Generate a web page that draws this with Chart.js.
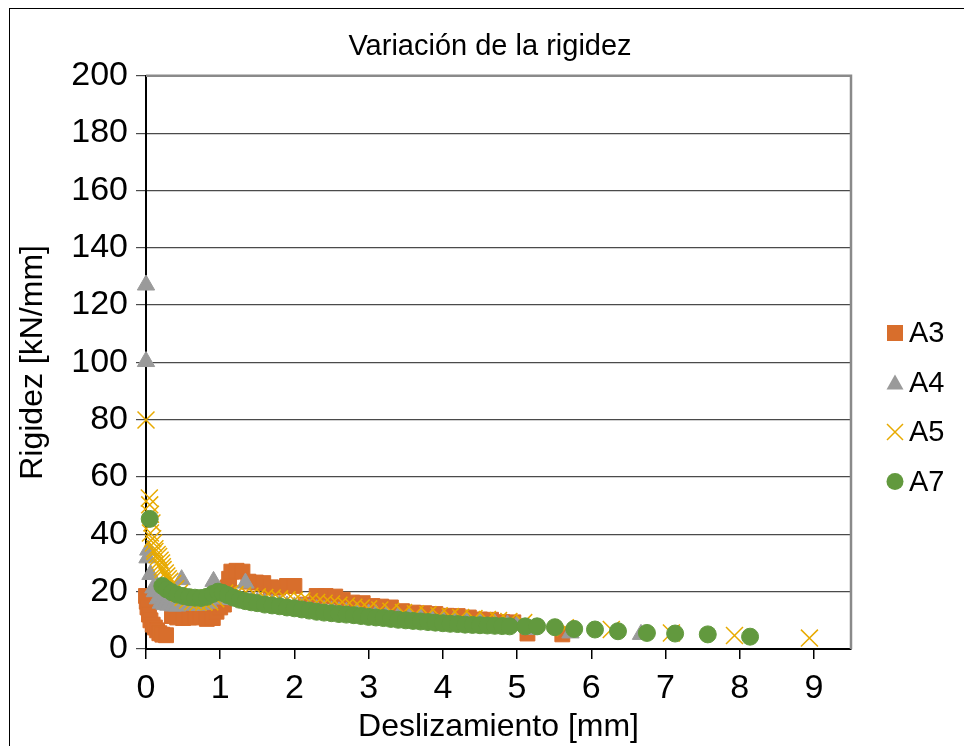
<!DOCTYPE html>
<html>
<head>
<meta charset="utf-8">
<script src="https://cdn.jsdelivr.net/npm/chart.js@4.4.1/dist/chart.umd.min.js"></script>
<style>
html,body{margin:0;padding:0;background:#fff;overflow:hidden}
#wrap{position:absolute;left:0;top:0;width:964px;height:746px}
#frame{position:absolute;left:9px;top:8px;width:1000px;height:800px;border:1px solid #000}
</style>
</head>
<body>
<div id="wrap"><canvas id="chart" width="964" height="746"></canvas></div>
<div id="frame"></div>
<script>

/* DATA */

const a3X=[0,0.01,0.02,0.04,0.06,0.09,0.12,0.15,0.18,0.22,0.27,0.35,0.42,0.5,0.58,0.66,0.74,0.82,0.9,0.95,1.0,1.05,1.08,1.1,1.12,1.15,1.22,1.3,1.38,1.48,1.58,1.68,1.78,1.9,2.0,2.15,2.3,2.42,2.55,2.65,2.78,2.92,3.05,3.17,3.3,3.45,3.6,3.75,3.9,4.05,4.2,4.35,4.5,4.65,4.8,4.95,5.14,5.61];
const a3Y=[18.5,16.5,14.5,12,10,8.5,7.5,6.5,5.5,5,4.8,11.5,11,10.8,11,11,11.3,10.5,10.8,13,14.5,15.5,18,21.5,24.5,27,27.3,27,23.5,23.2,23,21.5,21.4,22,22,15.5,18.5,18.5,18.3,17.2,16.2,16,15,14.8,14.5,13.2,12.7,12.5,12.2,11.6,11.5,11,10.3,10.2,9.4,9.3,5.4,5.1];

const a4X=[0,0,0.03,0.02,0.06,0.1,0.12,0.16,0.2,0.25,0.3,0.36,0.42,0.48,0.55,0.62,0.7,0.78,0.85,0.91,0.98,1.05,1.13,1.2,1.27,1.34,1.42,1.5,1.6,1.7,1.8,1.9,2.0,2.1,2.2,2.3,2.4,2.5,2.6,2.7,2.84,3.0,3.1,3.24,3.4,3.55,3.7,3.85,4.0,4.15,4.32,4.5,4.7,4.87,5.0,5.18,5.72,6.67];
const a4Y=[127,100.3,34.5,31.8,26,21.3,20,17.5,16,15.5,15.3,15,15,24.2,15.5,15.3,15.3,15.5,16,23.6,17.5,17.5,17.3,17.2,17,23,16.5,16.3,16,15.7,15.3,15,14.7,14.4,14,13.8,13.5,13.3,13,12.8,12.7,12.2,12,11.6,11.3,11,10.7,10.3,10,9.7,9.4,9.1,8.7,8.4,8.2,6.8,5.6,5.1];

const a5X=[0,0.045,0.05,0.06,0.08,0.06,0.09,0.1,0.12,0.12,0.15,0.17,0.19,0.21,0.22,0.23,0.26,0.28,0.3,0.32,0.36,0.4,0.45,0.5,0.56,0.63,0.7,0.78,0.86,0.94,1.0,1.06,1.13,1.2,1.3,1.4,1.5,1.6,1.7,1.8,1.9,2.0,2.1,2.2,2.3,2.4,2.5,2.6,2.7,2.8,2.9,3.0,3.15,3.3,3.47,3.63,3.8,3.95,4.1,4.24,4.42,4.6,4.75,4.89,5.09,5.65,6.27,7.08,7.93,8.94];
const a5Y=[79.9,52.7,50.3,47,44,40.5,38.5,37,35,34,33,32.3,31,30,28.7,27.7,26.5,25.5,24.5,23.6,22.8,21,19.5,18,17,16.5,16.3,16.3,16.5,17.5,18.8,19.5,19.3,19,18.7,18.4,18.2,18,17.8,17.5,17.2,17,16.8,16.5,16.2,16,15.7,15.3,15,14.6,14.3,14,13.6,13.2,12.7,12.3,12,11.6,11.3,11,10.6,10.3,9.9,9.6,9.2,7.4,6.8,5.6,4.7,3.8];

const a7X=[0.05,0.22,0.28,0.35,0.42,0.5,0.58,0.66,0.74,0.82,0.9,0.97,1.03,1.1,1.18,1.26,1.34,1.42,1.5,1.6,1.7,1.8,1.9,2.0,2.1,2.2,2.3,2.4,2.5,2.6,2.7,2.8,2.9,3.0,3.1,3.2,3.3,3.4,3.5,3.6,3.7,3.8,3.9,4.0,4.1,4.2,4.3,4.4,4.5,4.6,4.7,4.8,4.9,5.11,5.27,5.51,5.77,6.05,6.36,6.75,7.13,7.57,8.14];
const a7Y=[45.4,22,20.8,19.8,19,18.5,18.1,17.9,17.8,18.2,19.2,20,19.6,18.8,17.9,17.2,16.7,16.3,16,15.5,15.2,14.9,14.5,14.2,13.8,13.4,13,12.7,12.5,12.2,12,11.8,11.5,11.2,11,10.8,10.5,10.2,10,9.8,9.6,9.4,9.2,9,8.8,8.7,8.5,8.4,8.3,8.2,8.1,8,7.9,7.9,7.9,7.6,7,6.8,6.2,5.6,5.4,5.1,4.3];

const seriesNames=["A3","A4","A5","A7"];
const xTicks=[0,1,2,3,4,5,6,7,8,9];
const yTicks=[0,20,40,60,80,100,120,140,160,180,200];

const pts=(xs,ys)=>xs.map((x,i)=>({x:x,y:ys[i]}));

const FONT="'Liberation Sans', Arial, sans-serif";

/* series styles */
const styles=[
{color:"#D86E2C",pointStyle:"rect",radius:10.5,borderWidth:1},
{color:"#9A9A9A",pointStyle:"triangle",radius:10,borderWidth:1},
{color:"#E8AA00",pointStyle:"crossRot",radius:12,borderWidth:1.5},
{color:"#62993E",pointStyle:"circle",radius:8.5,borderWidth:1}
];

const allData=[pts(a3X,a3Y),pts(a4X,a4Y),pts(a5X,a5Y),pts(a7X,a7Y)];

const datasets=seriesNames.map((name,i)=>({
label:name,
data:allData[i],
order:3-i,
clip:false,
showLine:false,
pointStyle:styles[i].pointStyle,
pointRadius:styles[i].radius,
pointHoverRadius:styles[i].radius,
pointBorderWidth:styles[i].borderWidth,
pointBackgroundColor:styles[i].color,
pointBorderColor:styles[i].color,
backgroundColor:styles[i].color,
borderColor:styles[i].color
}));


/* gray frame on top and right of plot */
const plotFrame={
id:"plotFrame",
beforeDatasetsDraw(chart){
const a=chart.chartArea,ctx=chart.ctx;
ctx.save();
ctx.strokeStyle="#8a8a8a";
ctx.lineWidth=2.5;
ctx.beginPath();
ctx.moveTo(a.left,a.top);
ctx.lineTo(a.right,a.top);
ctx.lineTo(a.right,a.bottom);
ctx.stroke();
ctx.restore();
}
};

/* legend at right */
const sideLegend={
id:"sideLegend",
afterDraw(chart){
const ctx=chart.ctx;
const x0=895,y0=333,gap=49.5;
ctx.save();
seriesNames.forEach((name,i)=>{
const y=y0+i*gap,s=styles[i];
ctx.fillStyle=s.color;
ctx.strokeStyle=s.color;
ctx.lineWidth=1.5;
ctx.beginPath();
if(s.pointStyle==="rect"){
ctx.rect(x0-8,y-8,16,16);ctx.fill();
}else if(s.pointStyle==="triangle"){
ctx.moveTo(x0,y-8);ctx.lineTo(x0+8.5,y+7);ctx.lineTo(x0-8.5,y+7);ctx.closePath();ctx.fill();
}else if(s.pointStyle==="crossRot"){
ctx.moveTo(x0-8,y-8);ctx.lineTo(x0+8,y+8);ctx.moveTo(x0+8,y-8);ctx.lineTo(x0-8,y+8);ctx.stroke();
}else{
ctx.arc(x0,y,8.5,0,Math.PI*2);ctx.fill();
}
ctx.fillStyle="#000";
ctx.font="29px "+FONT;
ctx.textBaseline="middle";
ctx.textAlign="left";
ctx.fillText(name,x0+14,y+1);
});
ctx.restore();
}
};


new Chart(document.getElementById("chart"),{

type:"scatter",

data:{datasets:datasets},

options:{
responsive:false,
animation:false,
events:[],
layout:{padding:{left:16,right:0,top:0,bottom:0}},
plugins:{
legend:{display:false},
tooltip:{enabled:false},
title:{
display:true,
text:"Variación de la rigidez",
color:"#000",
font:{family:FONT,size:29,weight:"normal"},
padding:{top:30,bottom:11}
}
},
scales:{
x:{
type:"linear",
min:0,
max:9.5,
afterFit:s=>{s.height=97;},
afterBuildTicks:s=>{s.ticks=xTicks.map(v=>({value:v}));},
ticks:{stepSize:1,color:"#000",padding:9,font:{family:FONT,size:34},maxRotation:0},
grid:{drawOnChartArea:false,drawTicks:true,tickLength:10,color:"#000",lineWidth:1.5},
border:{color:"#000",width:2},
title:{display:true,text:"Deslizamiento [mm]",color:"#000",font:{family:FONT,size:32},padding:{top:0,bottom:0}}
},
y:{
type:"linear",
min:0,
max:200,
afterFit:s=>{s.width=130;},
afterBuildTicks:s=>{s.ticks=yTicks.map(v=>({value:v}));},
ticks:{stepSize:20,color:"#000",padding:8,font:{family:FONT,size:34}},
grid:{color:"#4a4a4a",lineWidth:1.2,tickLength:10},
border:{color:"#000",width:2},
title:{display:true,text:"Rigidez [kN/mm]",color:"#000",font:{family:FONT,size:32},padding:{top:-2,bottom:0}}
},
/* empty right axis keeps room for the legend */
side:{
type:"linear",
position:"right",
min:0,
max:200,
afterFit:s=>{s.width=113;},
ticks:{display:false},
grid:{display:false,drawOnChartArea:false},
border:{display:false}
}
}
},

plugins:[plotFrame,sideLegend]

});

</script>
</body>
</html>
